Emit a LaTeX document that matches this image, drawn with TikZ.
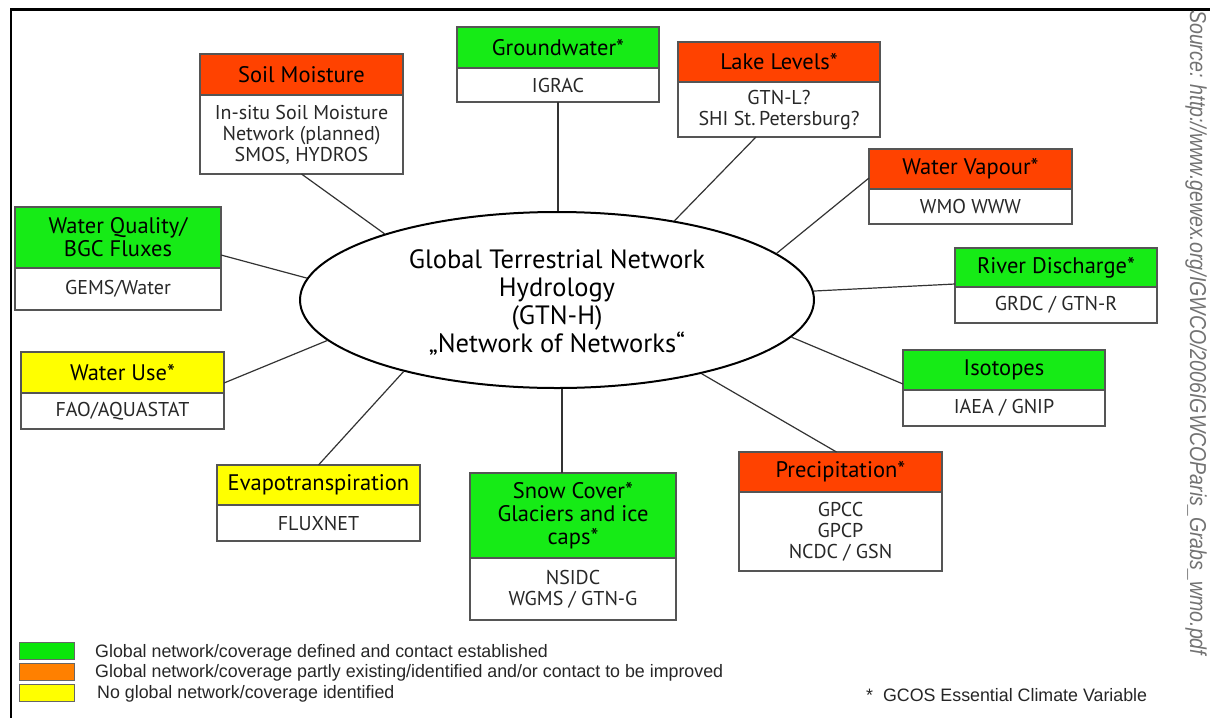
\documentclass[tikz,border=0pt]{standalone}
\usepackage{fontspec}
\setmainfont{PT Sans}
\newfontfamily\legfont{Liberation Sans}[FakeStretch=0.99]
\newfontfamily\srcfont{Liberation Sans}[FakeStretch=0.85]
\usetikzlibrary{shapes.geometric}
\definecolor{boxgreen}{RGB}{22,235,22}
\definecolor{boxred}{RGB}{255,66,0}
\definecolor{boxyellow}{RGB}{255,255,0}
\definecolor{leggreen}{RGB}{10,230,10}
\definecolor{legorange}{RGB}{255,128,0}
\definecolor{legyellow}{RGB}{255,255,0}
\definecolor{bordergray}{RGB}{85,85,85}
\definecolor{bodytext}{RGB}{40,40,40}
\tikzset{
  hdr/.style={draw=bordergray, line width=1.5pt, inner sep=0pt, outer sep=0pt, align=center,
    font=\fontsize{22.5}{23}\selectfont, text=black},
  bdy/.style={draw=bordergray, line width=1.5pt, inner sep=0pt, outer sep=0pt, align=center,
    fill=white, font=\fontsize{20}{21}\selectfont, text=bodytext},
  link/.style={draw=black!80, line width=1.2pt},
  legsq/.style={draw=black!60, line width=0.8pt, minimum width=55pt, minimum height=17pt, inner sep=0pt, anchor=north west},
  legtxt/.style={anchor=base west, inner sep=0pt, font=\legfont\fontsize{18}{19}\selectfont, text=black!85}
}
\newcommand\netbox[9]{%
  \node[hdr, fill=#7, minimum width={(#4-#2)*1pt}, minimum height={(#5-#3)*1pt}, anchor=north west] (#1-h) at (#2,#3) {#8};
  \node[bdy, minimum width={(#4-#2)*1pt}, minimum height={(#6-#5)*1pt}, anchor=north west] (#1-b) at (#2,#5) {#9};
}
\begin{document}
\begin{tikzpicture}[x=1pt,y=-1pt]
\useasboundingbox (0,0) rectangle (1210,718);
\fill[white] (0,0) rectangle (1210,718);
% frame
\draw[line width=2.6pt] (1210,9.5) -- (11,9.5) -- (11,718);

% centre
\node[draw=black, ellipse, line width=2pt, minimum width=514pt, minimum height=176pt, inner sep=0pt] (ell) at (557,300) {};
\node[align=center, inner sep=0pt, font=\fontsize{26.5}{28}\selectfont] (ell-t) at (557,303)
  {Global Terrestrial Network\\Hydrology\\(GTN-H)\\„Network of Networks“};

% boxes
\netbox{sm}{200}{54}{403}{95}{174}{boxred}{Soil Moisture}{In-situ Soil Moisture\\Network (planned)\\SMOS, HYDROS}
\netbox{gw}{457}{27}{659}{68}{102}{boxgreen}{Groundwater*}{IGRAC}
\netbox{lk}{678}{42}{880}{82}{137}{boxred}{Lake Levels*}{GTN-L?\\SHI St.\,Petersburg?}
\netbox{wv}{869}{149}{1072}{189}{224}{boxred}{Water Vapour*}{WMO WWW}
\netbox{rd}{955}{248}{1157}{287}{323}{boxgreen}{River Discharge*}{GRDC / GTN-R}
\netbox{is}{903}{350}{1105}{390}{426}{boxgreen}{Isotopes}{IAEA / GNIP}
\netbox{pr}{739}{452}{942}{492}{571}{boxred}{Precipitation*}{GPCC\\GPCP\\NCDC / GSN}
\netbox{sn}{470}{473}{676}{558}{620}{boxgreen}{Snow Cover*\\Glaciers and ice\\caps*}{NSIDC\\WGMS / GTN-G}
\netbox{ev}{217}{465}{420}{505}{541}{boxyellow}{Evapotranspiration}{FLUXNET}
\netbox{wu}{21}{352}{224}{393}{429}{boxyellow}{Water Use*}{FAO/AQUASTAT}
\netbox{wq}{15}{207}{221}{268}{310}{boxgreen}{Water Quality/\\BGC Fluxes}{GEMS/Water}

% connectors
\draw[link] (sm-b.south) -- (ell.159);
\draw[link] (gw-b.south) -- (gw-b.south |- ell.north);
\draw[link] ([xshift=-23pt]lk-b.south) -- (ell.34.7);
\draw[link] ([yshift=11pt]wv-h.south west) -- (ell.12.3);
\draw[link] ([yshift=3pt]rd-h.south west) -- (ell.2.2);
\draw[link] ([yshift=6pt]is-h.south west) -- (ell.351.5);
\draw[link] ([xshift=-4pt]pr-h.north) -- (ell.333.6);
\draw[link] ([xshift=-11pt]sn-h.north) -- ([xshift=-11pt]sn-h.north |- ell.south);
\draw[link] (ev-h.north) -- (ell.205);
\draw[link] ([yshift=10pt]wu-h.south east) -- (ell.190);
\draw[link] ([yshift=13pt]wq-h.south east) -- (ell.175.7);

% legend
\node[legsq, fill=leggreen] (lg1) at (19,642) {};
\node[legsq, fill=legorange] (lg2) at (19,663) {};
\node[legsq, fill=legyellow] (lg3) at (19,684) {};
\node[legtxt] (lt1) at (95,657) {Global network/coverage defined and contact established};
\node[legtxt] (lt2) at (95,677.5) {Global network/coverage partly existing/identified and/or contact to be improved};
\node[legtxt] (lt3) at (97,698) {No global network/coverage identified};
\node[legtxt] (gcos) at (866,701) {*\ \ GCOS Essential Climate Variable};

% source
\node[rotate=-90, anchor=base west, inner sep=0pt, text=black!55,
  font=\srcfont\itshape\fontsize{23}{24}\selectfont] (src) at (1190,10)
  {Source: http://www.gewex.org/IGWCO/2006IGWCOParis\_Grabs\_wmo.pdf};
\end{tikzpicture}
\end{document}
